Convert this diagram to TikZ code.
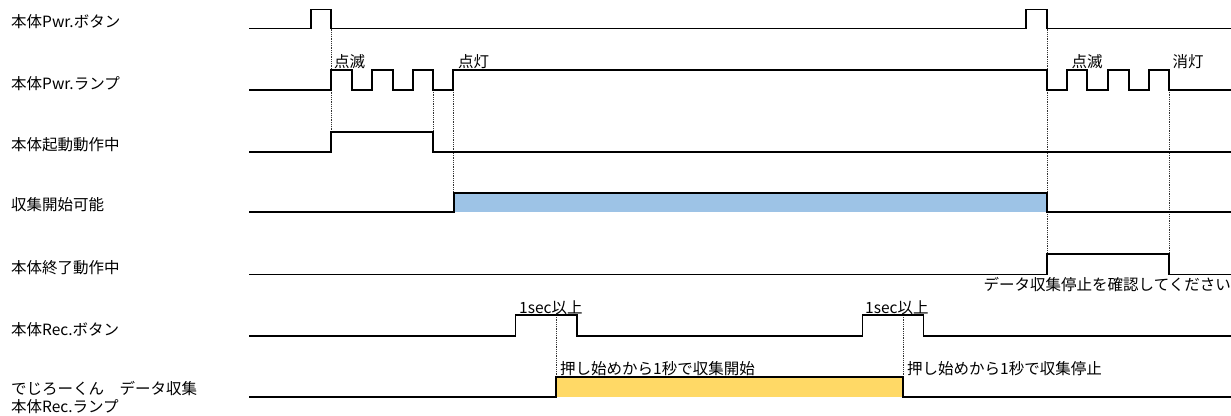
\documentclass[tikz,border=0pt]{standalone}
\usepackage{fontspec}
\setmainfont{Noto Sans CJK JP}
\definecolor{ablue}{HTML}{9DC3E6}
\definecolor{ayellow}{HTML}{FFD966}
\begin{document}
\begin{tikzpicture}[x=1pt,y=-1pt,
  sig/.style={line width=1.8pt},
  guide/.style={line width=0.7pt, dash pattern=on 0.9pt off 0.9pt, black!80},
  lab/.style={anchor=west, inner sep=0pt, font=\fontsize{15.5}{18.4}\selectfont, align=left},
  note/.style={anchor=west, inner sep=0pt, font=\fontsize{15.5}{18}\selectfont}]
\useasboundingbox (0,0) rectangle (1231,415);
% labels
\node[lab] (l1) at (11,21.7) {本体Pwr.ボタン};
\node[lab] (l2) at (11,83.3) {本体Pwr.ランプ};
\node[lab] (l3) at (11,145) {本体起動動作中};
\node[lab] (l4) at (11,205) {収集開始可能};
\node[lab] (l5) at (11,267.7) {本体終了動作中};
\node[lab] (l6) at (11,330) {本体Rec.ボタン};
\node[lab] (l7) at (11,397.5) {でじろーくん　データ収集\\本体Rec.ランプ};
% fills
\fill[ablue] (454,193) rectangle (1047,212);
\fill[ayellow] (556,377) rectangle (903,397);
% guides
\draw[guide] (331,28.5) -- (331,132);
\draw[guide] (433,90) -- (433,132);
\draw[guide] (453,90) -- (453,193);
\draw[guide] (1047,28.5) -- (1047,254);
\draw[guide] (1169,90) -- (1169,254);
\draw[guide] (556,315) -- (556,377);
\draw[guide] (903,315) -- (903,377);
% signals
\draw[sig] (249,28.5) -- (311,28.5) -- (311,9.5) -- (331,9.5) -- (331,28.5) -- (1026,28.5) -- (1026,9.5) -- (1047,9.5) -- (1047,28.5) -- (1231,28.5);
\draw[sig] (249,90) -- (331,90) -- (331,70) -- (352,70) -- (352,90) -- (372,90) -- (372,70) -- (393,70) -- (393,90) -- (413,90) -- (413,70) -- (433,70) -- (433,90) -- (453,90) -- (453,70) -- (1047,70) -- (1047,90) -- (1067,90) -- (1067,70) -- (1087,70) -- (1087,90) -- (1108,90) -- (1108,70) -- (1129,70) -- (1129,90) -- (1149,90) -- (1149,70) -- (1169,70) -- (1169,90) -- (1231,90);
\draw[sig] (249,152) -- (331,152) -- (331,132) -- (433,132) -- (433,152) -- (1231,152);
\draw[sig] (249,212) -- (454,212) -- (454,193) -- (1047,193) -- (1047,212) -- (1231,212);
\draw[sig] (249,274.5) -- (1047,274.5) -- (1047,254) -- (1169,254) -- (1169,274.5) -- (1231,274.5);
\draw[sig] (249,336) -- (515.5,336) -- (515.5,315) -- (577,315) -- (577,336) -- (862.5,336) -- (862.5,315) -- (923.5,315) -- (923.5,336) -- (1231,336);
\draw[sig] (249,397) -- (556,397) -- (556,377) -- (903,377) -- (903,397) -- (1231,397);
% notes
\node[note] (n1) at (334,61.7) {点滅};
\node[note] (n2) at (458,61.7) {点灯};
\node[note] (n3) at (1071.5,61.7) {点滅};
\node[note] (n4) at (1172.5,61.7) {消灯};
\node[note, anchor=east] (n5) at (1231,285) {データ収集停止を確認してください};
\node[note] (n6) at (519,307.7) {1sec以上};
\node[note] (n7) at (865,307.7) {1sec以上};
\node[note] (n8) at (560,369) {押し始めから1秒で収集開始};
\node[note] (n9) at (907,368.5) {押し始めから1秒で収集停止};
\end{tikzpicture}
\end{document}
